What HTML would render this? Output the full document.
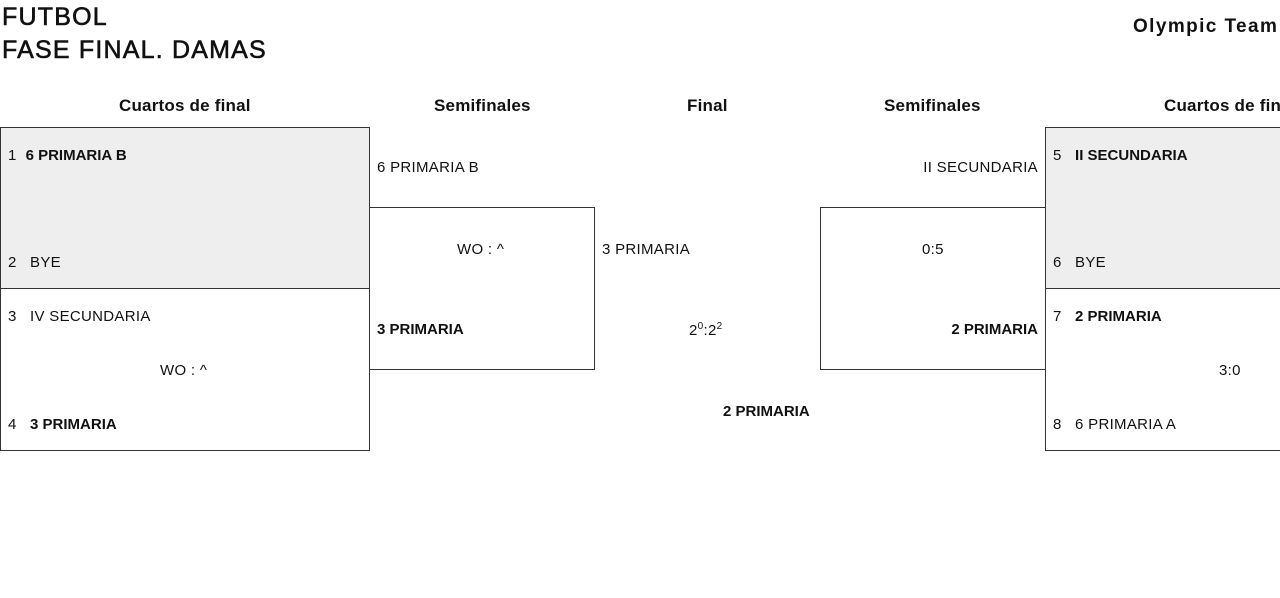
<!DOCTYPE html>
<html><head><meta charset="utf-8"><style>
body{margin:0;width:1280px;height:598px;background:#fff;position:relative;overflow:hidden;font-family:"Liberation Sans",sans-serif;color:#111}
.a{position:absolute;white-space:nowrap}
.t{font-size:25px;font-weight:normal;letter-spacing:1.2px;-webkit-text-stroke:0.6px #111}
.h{font-size:17px;font-weight:bold;letter-spacing:0.2px}
.s{font-size:15px;letter-spacing:0.3px}
b{font-weight:bold;letter-spacing:0}
.box{position:absolute;border:1px solid #333;box-sizing:border-box}
</style></head><body>
<div class="a t" style="left:2px;top:3px">FUTBOL</div>
<div class="a t" style="left:2px;top:36px">FASE FINAL. DAMAS</div>
<div class="a h" style="left:1133px;top:16px;font-size:19px;letter-spacing:1.4px">Olympic Team</div>

<div class="a h" style="left:119px;top:96px">Cuartos de final</div>
<div class="a h" style="left:434px;top:96px">Semifinales</div>
<div class="a h" style="left:687px;top:96px">Final</div>
<div class="a h" style="left:884px;top:96px">Semifinales</div>
<div class="a h" style="left:1164px;top:96px">Cuartos de final</div>

<div class="box" style="left:0;top:127px;width:370px;height:162px;background:#eee"></div>
<div class="box" style="left:0;top:288px;width:370px;height:163px"></div>
<div class="box" style="left:369px;top:207px;width:226px;height:163px"></div>
<div class="box" style="left:820px;top:207px;width:226px;height:163px"></div>
<div class="box" style="left:1045px;top:127px;width:240px;height:162px;background:#eee"></div>
<div class="box" style="left:1045px;top:288px;width:240px;height:163px"></div>

<div class="a s" style="left:8px;top:147px">1&nbsp; <b>6 PRIMARIA B</b></div>
<div class="a s" style="left:8px;top:254px">2&nbsp;&nbsp; BYE</div>
<div class="a s" style="left:8px;top:308px">3&nbsp;&nbsp; IV SECUNDARIA</div>
<div class="a s" style="left:160px;top:362px">WO : ^</div>
<div class="a s" style="left:8px;top:416px">4&nbsp;&nbsp; <b>3 PRIMARIA</b></div>

<div class="a s" style="left:377px;top:159px">6 PRIMARIA B</div>
<div class="a s" style="left:457px;top:241px">WO : ^</div>
<div class="a s" style="left:377px;top:321px"><b>3 PRIMARIA</b></div>

<div class="a s" style="left:602px;top:241px">3 PRIMARIA</div>
<div class="a s" style="left:689px;top:321px">2<sup style="font-size:10px">0</sup>:2<sup style="font-size:10px">2</sup></div>
<div class="a s" style="left:723px;top:403px"><b>2 PRIMARIA</b></div>

<div class="a s" style="right:242px;top:159px">II SECUNDARIA</div>
<div class="a s" style="left:922px;top:241px">0:5</div>
<div class="a s" style="right:242px;top:321px"><b>2 PRIMARIA</b></div>

<div class="a s" style="left:1053px;top:147px">5&nbsp;&nbsp; <b>II SECUNDARIA</b></div>
<div class="a s" style="left:1053px;top:254px">6&nbsp;&nbsp; BYE</div>
<div class="a s" style="left:1053px;top:308px">7&nbsp;&nbsp; <b>2 PRIMARIA</b></div>
<div class="a s" style="left:1219px;top:362px">3:0</div>
<div class="a s" style="left:1053px;top:416px">8&nbsp;&nbsp; 6 PRIMARIA A</div>
</body></html>
